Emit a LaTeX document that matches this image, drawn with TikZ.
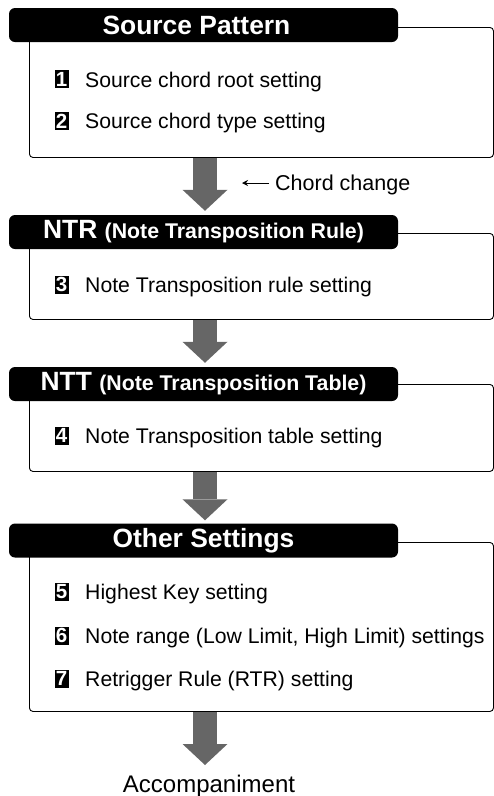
\documentclass[tikz,border=0pt]{standalone}
\usepackage{fontspec}
\setmainfont{Liberation Sans}
\usetikzlibrary{arrows.meta,calc}
\definecolor{arrowgray}{HTML}{666666}
\begin{document}
\begin{tikzpicture}[x=1pt,y=-1pt,
  hdr/.style={fill=black, text=white, rounded corners=6pt, minimum width=389pt, minimum height=34pt, inner sep=0pt, font=\bfseries\fontsize{26.4}{30}\selectfont},
  panel/.style={draw=black, line width=0.9pt, rounded corners=3.5pt, anchor=north west, inner sep=0pt, minimum width=464pt},
  num/.style={fill=black, text=white, minimum width=14pt, minimum height=18pt, inner sep=0pt, font=\bfseries\fontsize{20.5}{20}\selectfont},
  item/.style={anchor=base west, inner sep=0pt, font=\fontsize{21.2}{24}\selectfont},
  flow/.style={draw=arrowgray, line width=24pt, -{Triangle[width=45pt,length=21pt,line width=0pt]}},
]
\useasboundingbox (0,0) rectangle (494,796);
\coordinate (ax) at (205,0);

% panels
\node[panel, minimum height=130pt] (b1) at (29,27) {};
\node[panel, minimum height=86pt] (b2) at (29,233) {};
\node[panel, minimum height=87pt] (b3) at (29,384) {};
\node[panel, minimum height=169pt] (b4) at (29,542) {};

% headers
\node[hdr] (h1) at (203.5,25) {\hspace*{-14pt}Source Pattern};
\node[hdr] (h2) at (203.5,232) {NTR {\fontsize{21.3}{24}\selectfont (Note Transposition Rule)}};
\node[hdr] (h3) at (203.5,384) {NTT {\fontsize{21.3}{24}\selectfont (Note Transposition Table)}};
\node[hdr] (h4) at (203.5,540.5) {Other Settings};

% items
\node[num] (n1) at (61.5,79) {1};
\node[item] (t1) at (85,87) {Source chord root setting};
\node[num] (n2) at (61.5,121) {2};
\node[item] (t2) at (85,128) {Source chord type setting};
\node[num] (n3) at (61.5,284.5) {3};
\node[item] (t3) at (85,292) {Note Transposition rule setting};
\node[num] (n4) at (61.5,435.5) {4};
\node[item] (t4) at (85,443) {Note Transposition table setting};
\node[num] (n5) at (61.5,591.5) {5};
\node[item] (t5) at (85,599) {Highest Key setting};
\node[num] (n6) at (61.5,635.5) {6};
\node[item] (t6) at (85,643) {Note range (Low Limit, High Limit) settings};
\node[num] (n7) at (61.5,678.5) {7};
\node[item] (t7) at (85,686) {Retrigger Rule (RTR) setting};

% side label and output
\node[anchor=base west, inner sep=0pt, font=\fontsize{21.5}{24}\selectfont] (cc) at (275,190) {Chord change};
\coordinate (ccl) at (242,183);
\draw[line width=1pt, -{Stealth[length=6pt,width=6pt]}] (cc.west |- ccl) ++(-6,0) -- (ccl);
\node[anchor=base, inner sep=0pt, font=\fontsize{24}{28}\selectfont] (acc) at (209,792) {Accompaniment};
\coordinate (a4end) at (205,765);

% flow arrows
\draw[flow] (b1.south -| ax) -- ($(h2.north -| ax)+(0,-4)$);
\draw[flow] (b2.south -| ax) -- ($(h3.north -| ax)+(0,-4)$);
\draw[flow] (b3.south -| ax) -- ($(h4.north -| ax)+(0,-3)$);
\draw[flow] (b4.south -| ax) -- (a4end);

% redraw panel bottoms over arrow starts
\foreach \b in {b1,b2,b3,b4}{
  \draw[line width=0.9pt] ($(\b.south)+(-40,0)$) -- ($(\b.south)+(40,0)$);
}
\end{tikzpicture}
\end{document}
